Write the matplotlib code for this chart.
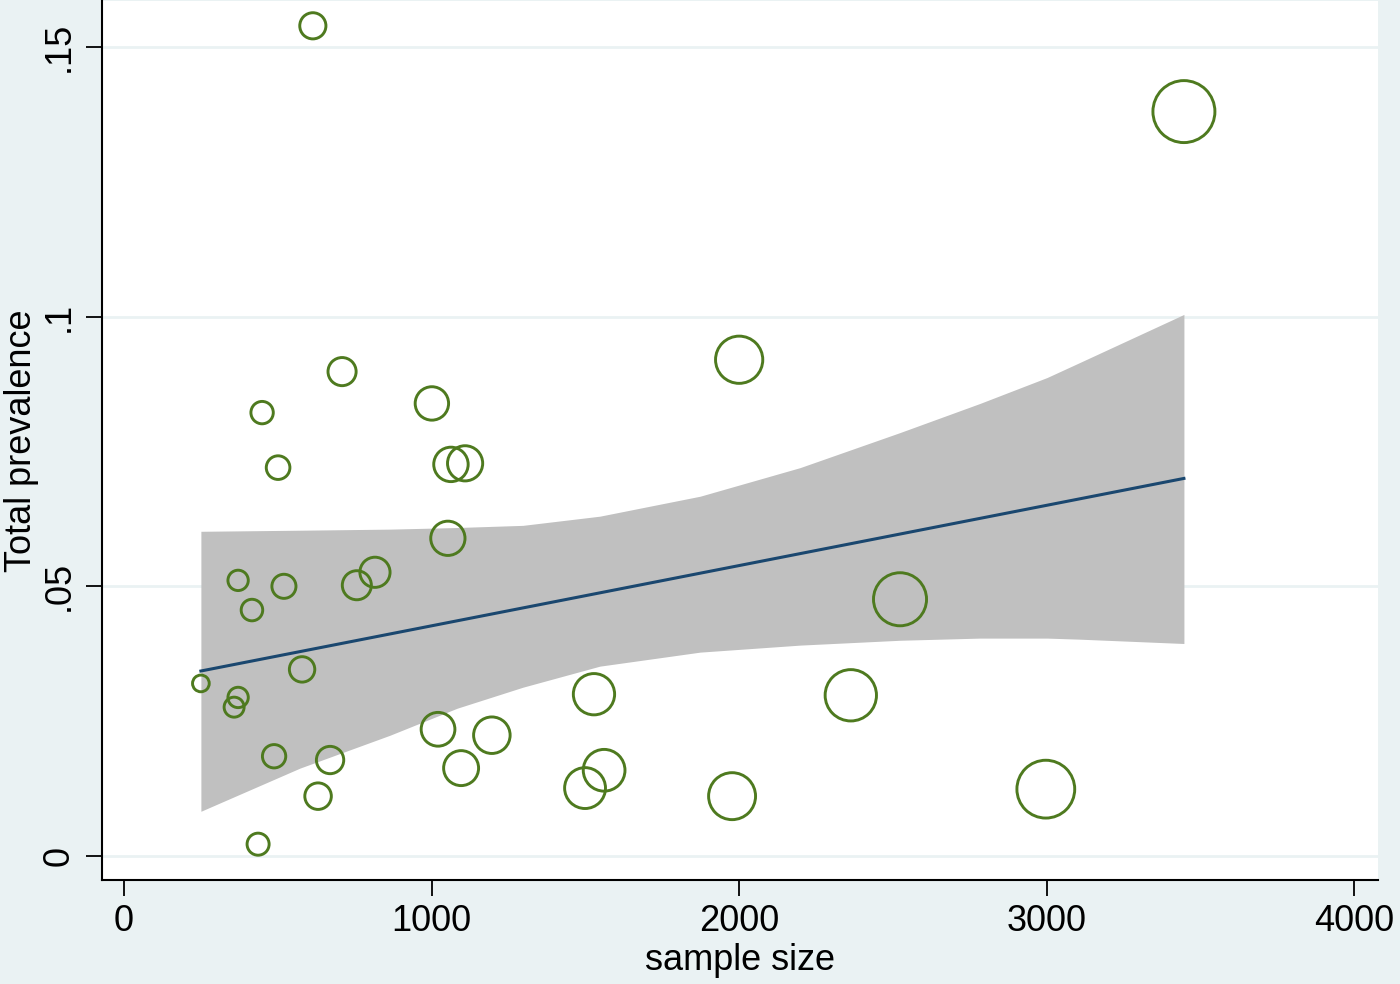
import numpy as np
import matplotlib.pyplot as plt

plt.rcParams["font.family"] = ["Liberation Sans", "DejaVu Sans"]

# study points: sample size and total prevalence
sample_size = [250, 371, 371, 358, 416, 449, 436, 488, 501, 520, 579, 614,
               631, 670, 709, 757, 816, 1001, 1021, 1053, 1063, 1109, 1096,
               1196, 1499, 1528, 1561, 1977, 2000, 2363, 2523, 2997, 3446]
prevalence = [0.0320, 0.0511, 0.0294, 0.0276, 0.0456, 0.0822, 0.0022, 0.0185,
              0.0720, 0.0500, 0.0346, 0.1539, 0.0111, 0.0178, 0.0898, 0.0502,
              0.0526, 0.0839, 0.0235, 0.0589, 0.0726, 0.0728, 0.0163, 0.0224,
              0.0126, 0.0300, 0.0159, 0.0111, 0.0920, 0.0298, 0.0476, 0.0124,
              0.1380]

# fitted line and its confidence band
fit_x = [250, 3446]
fit_y = [0.0343, 0.0700]
band_x = [250, 572, 865, 1083, 1297, 1547, 1873, 2198, 2523, 2783, 3001,
          3108, 3446]
band_lo = [0.0083, 0.0163, 0.0224, 0.0274, 0.0313, 0.0352, 0.0378, 0.0391,
           0.0400, 0.0404, 0.0404, 0.0402, 0.0394]
band_hi = [0.0602, 0.0604, 0.0606, 0.0609, 0.0613, 0.0630, 0.0667, 0.0720,
           0.0785, 0.0839, 0.0887, 0.0915, 0.1004]

xticks = [0, 1000, 2000, 3000, 4000]
yticks = [0, 0.05, 0.1, 0.15]
ytick_labels = ["0", ".05", ".1", ".15"]

bg = "#eaf2f3"
fig = plt.figure(figsize=(14, 9.84), dpi=100, facecolor=bg)
ax = fig.add_axes([102 / 1400, 1 - 880 / 984, 1276 / 1400, 879 / 984])
ax.set_facecolor("white")

ax.fill_between(band_x, band_lo, band_hi, color="#c0c0c0", lw=0, zorder=1)
ax.plot(fit_x, fit_y, color="#1a476f", lw=2.2, zorder=2)
sizes = np.array(sample_size) * 0.578
ax.scatter(sample_size, prevalence, s=sizes, facecolors="none",
           edgecolors="#4e7a1f", linewidths=2.1, zorder=3)

ax.set_xlim(-71.5, 4077)
ax.set_ylim(-0.00444, 0.1585)
ax.set_xticks(xticks)
ax.set_yticks(yticks)
ax.set_yticklabels(ytick_labels, rotation=90, va="center")
ax.yaxis.grid(True, color=bg, lw=2)
ax.set_axisbelow(True)

for s in ["top", "right"]:
    ax.spines[s].set_visible(False)
for s in ["left", "bottom"]:
    ax.spines[s].set_linewidth(1.5)
ax.tick_params(length=11.5, width=1.3, labelsize=26)
ax.tick_params(axis="x", pad=6)
ax.tick_params(axis="y", pad=7)

ax.set_xlabel("sample size", fontsize=26, labelpad=3)
ax.set_ylabel("Total prevalence", fontsize=26, labelpad=2)

fig.savefig("out.png", dpi=100, facecolor=bg)
